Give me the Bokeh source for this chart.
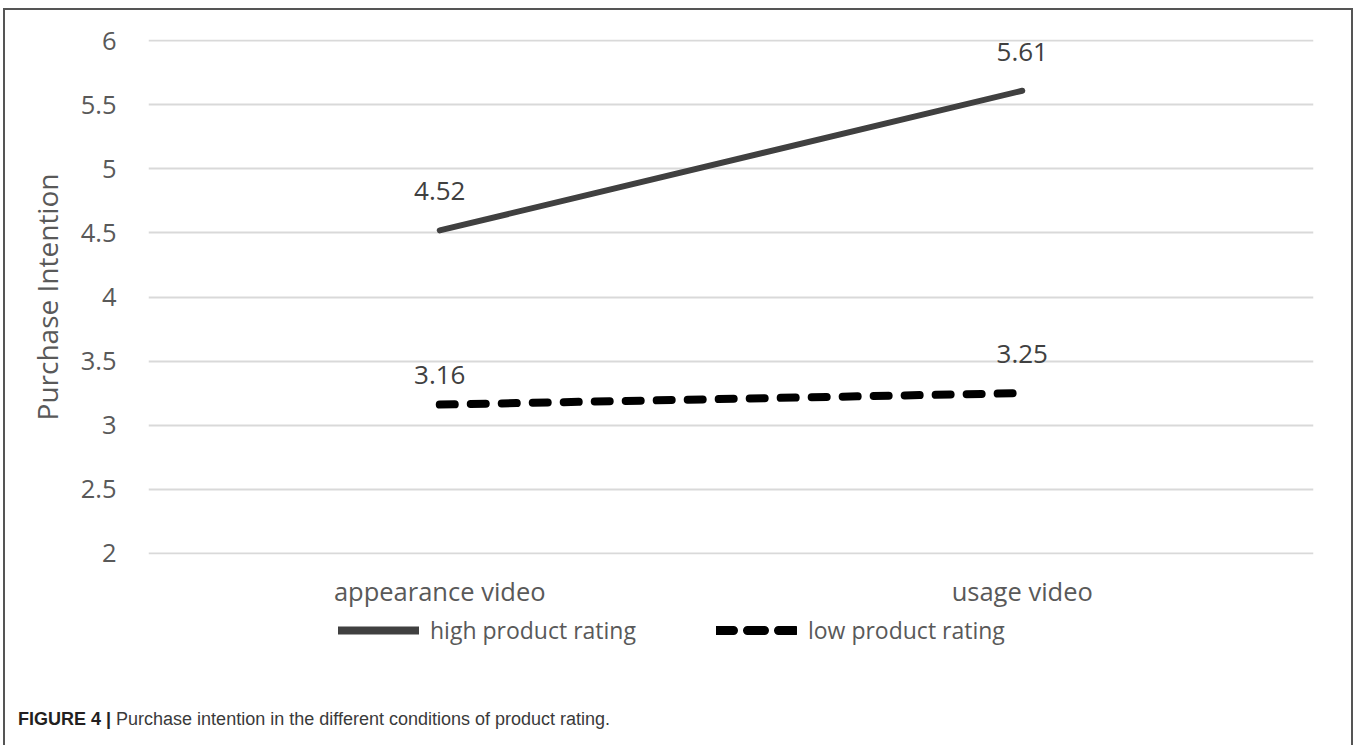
from bokeh.plotting import figure
from bokeh.layouts import column
from bokeh.models import (ColumnDataSource, FactorRange, Range1d, FixedTicker,
                          Legend, LegendItem, Div)
from bokeh.core.properties import value
from bokeh.embed import file_html
from bokeh.resources import INLINE

# ---- data -------------------------------------------------------------
conditions = ["appearance video", "usage video"]
high_rating = [4.52, 5.61]
low_rating = [3.16, 3.25]
series_names = ["high product rating", "low product rating"]
y_ticks = [2, 2.5, 3, 3.5, 4, 4.5, 5, 5.5, 6]
y_tick_labels = ["2", "2.5", "3", "3.5", "4", "4.5", "5", "5.5", "6"]
y_title = "Purchase Intention"
caption_head = "FIGURE 4 |"
caption_body = "Purchase intention in the different conditions of product rating."

# ---- styling ----------------------------------------------------------
W = 1346                      # width inside the outlined box
CHART_H, LEG_H, CAP_H = 600, 40, 95
FRAME_TOP, FRAME_H = 29, 516
BORDER_L, BORDER_R = 143, 38
FONT = "Open Sans"
AXIS_GREY = "#595959"
LABEL_GREY = "#404040"
HIGH_STYLE = dict(line_color="#404040", line_width=6, line_cap="round")
LOW_STYLE = dict(line_color="black", line_width=8, line_dash="15 16",
                 line_cap="round")

# ---- main chart -------------------------------------------------------
p = figure(width=W, height=CHART_H,
           x_range=FactorRange(*conditions, range_padding=0),
           y_range=Range1d(1.99, 6.01),
           output_backend="svg", toolbar_location=None,
           min_border_left=BORDER_L, min_border_right=BORDER_R,
           min_border_top=FRAME_TOP,
           min_border_bottom=CHART_H - FRAME_TOP - FRAME_H)
p.outline_line_color = None

# horizontal gridlines only
p.xgrid.visible = False
p.ygrid.ticker = FixedTicker(ticks=y_ticks)
p.ygrid.grid_line_color = "#d9d9d9"
p.ygrid.grid_line_width = 2

# y axis
p.yaxis.ticker = FixedTicker(ticks=y_ticks)
p.yaxis.major_label_overrides = {float(t): s for t, s in zip(y_ticks, y_tick_labels)}
p.yaxis.axis_line_color = None
p.yaxis.major_tick_line_color = None
p.yaxis.minor_tick_line_color = None
p.yaxis.major_label_standoff = 26
p.yaxis.major_label_text_font = FONT
p.yaxis.major_label_text_font_size = "25.5px"
p.yaxis.major_label_text_color = AXIS_GREY
p.yaxis.axis_label = y_title
p.yaxis.axis_label_text_font = FONT
p.yaxis.axis_label_text_font_size = "28px"
p.yaxis.axis_label_text_font_style = "normal"
p.yaxis.axis_label_text_color = AXIS_GREY
p.yaxis.axis_label_standoff = 12

# x axis
p.xaxis.axis_line_color = None
p.xaxis.major_tick_line_color = None
p.xaxis.minor_tick_line_color = None
p.xaxis.major_label_standoff = 13
p.xaxis.major_label_text_font = FONT
p.xaxis.major_label_text_font_size = "25.5px"
p.xaxis.major_label_text_color = AXIS_GREY

# series lines
p.line(conditions, high_rating, **HIGH_STYLE)
p.line(conditions, low_rating, **LOW_STYLE)

# value labels above each point (the first low label sits a little lower)
label_lift = {"3.16": 30}
for vals in (high_rating, low_rating):
    texts = [f"{v:.2f}" for v in vals]
    src = ColumnDataSource(dict(x=conditions, y=vals, label=texts,
                                dy=[-label_lift.get(t, 39) for t in texts]))
    p.text(x="x", y="y", text="label", source=src, y_offset="dy",
           text_align="center", text_baseline="alphabetic",
           text_font=value(FONT), text_font_size=value("26px"),
           text_color=LABEL_GREY)

# ---- legend strip -----------------------------------------------------
# the strip shows only the legend; its y range keeps the series lines out of view
leg = figure(width=W, height=LEG_H,
             x_range=FactorRange(*conditions, range_padding=0),
             y_range=Range1d(0, 1),
             output_backend="svg", toolbar_location=None,
             x_axis_location=None, y_axis_location=None,
             min_border_left=BORDER_L, min_border_right=BORDER_R,
             min_border_top=0, min_border_bottom=0)
leg.outline_line_color = None
leg.grid.visible = False
k_high = leg.line(conditions, high_rating, line_color="#404040",
                  line_width=8, line_cap="round")
k_low = leg.line(conditions, low_rating, line_color="black", line_width=9,
                 line_dash="17 14", line_cap="round")
leg.add_layout(Legend(items=[LegendItem(label=series_names[0], renderers=[k_high]),
                             LegendItem(label=series_names[1], renderers=[k_low])],
                      orientation="horizontal", location=(190, 4), margin=0,
                      padding=0, spacing=80, glyph_width=81, glyph_height=30,
                      label_standoff=11, label_text_font=FONT,
                      label_text_font_size="23px", label_text_color=AXIS_GREY,
                      border_line_color=None, background_fill_alpha=0))

# ---- caption ----------------------------------------------------------
cap = Div(width=W, height=CAP_H, margin=0,
          text=(f'<div style="position:absolute; left:13px; top:60px; '
                f'font-family:\'Liberation Sans\'; font-size:18px; line-height:1; '
                f'white-space:nowrap; color:#3a3a3a;">'
                f'<b style="color:#231f20;">{caption_head}</b> {caption_body}</div>'))

layout = column(p, leg, cap, spacing=0, margin=(10, 0, 0, 5),
                styles={"outline": "2px solid #555555"})

open("out.html", "w").write(file_html(layout, INLINE))
